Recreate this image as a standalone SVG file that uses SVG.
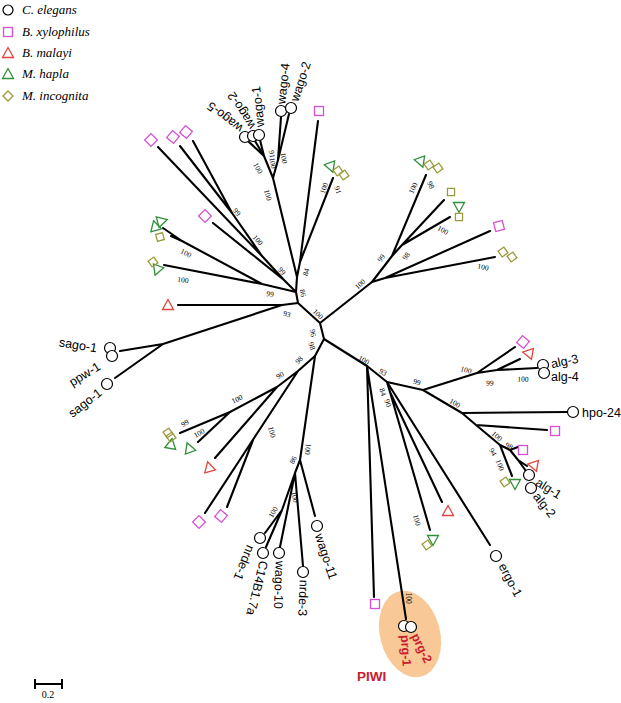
<svg xmlns="http://www.w3.org/2000/svg" xmlns:xlink="http://www.w3.org/1999/xlink" width="621" height="703" viewBox="0 0 621 703">
<style>
.br{fill:none;stroke:#000;stroke-width:2.1;stroke-linecap:round;stroke-linejoin:round}
.c{fill:#fff;stroke:#000;stroke-width:1.2}
.pk{fill:none;stroke:#d64fd6;stroke-width:1.3}
.rd{fill:none;stroke:#e0443c;stroke-width:1.3}
.gr{fill:none;stroke:#2f8f3a;stroke-width:1.3}
.ol{fill:none;stroke:#9a9a3c;stroke-width:1.3}
.bs{font-family:"Liberation Serif","Times New Roman",serif;font-size:7.5px;fill:#000;text-anchor:middle}
.lb{font-family:"Liberation Sans",Arial,sans-serif;font-size:12.5px;fill:#000}
.lg{font-family:"Liberation Serif","Times New Roman",serif;font-size:13px;font-style:italic;fill:#000}
.pr{font-family:"Liberation Sans",Arial,sans-serif;font-size:12.5px;font-weight:bold;fill:#c8202e}
</style>
<defs>
<rect id="sq" x="-4.5" y="-4.5" width="9" height="9"/>
<path id="tri" d="M0,-5.5 L5.5,4.5 L-5.5,4.5Z"/>
<path id="dia" d="M0,-5 L5,0 L0,5 L-5,0Z"/>
</defs>
<rect width="621" height="703" fill="#fff"/>

<g id="legend">
<circle class="c" cx="8" cy="10" r="5"/><text class="lg" x="22" y="14">C. elegans</text>
<use xlink:href="#sq" class="pk" transform="translate(8,32)"/><text class="lg" x="22" y="36">B. xylophilus</text>
<use xlink:href="#tri" class="rd" transform="translate(8,53)"/><text class="lg" x="22" y="57">B. malayi</text>
<use xlink:href="#tri" class="gr" transform="translate(8,74)"/><text class="lg" x="22" y="78">M. hapla</text>
<use xlink:href="#dia" class="ol" transform="translate(8,96)"/><text class="lg" x="22" y="100">M. incognita</text>
</g>

<g id="piwi-highlight">
<ellipse cx="410" cy="634" rx="30" ry="44" transform="rotate(-15 410 634)" fill="#f9c897"/>
<text x="357" y="681" font-family="Liberation Sans, Arial, sans-serif" font-size="13.5" font-weight="bold" fill="#c8202e">PIWI</text>
</g>

<g id="branches" class="br">
<path d="M320,323 L324,339 M320,323 L298,303 M320,323 L372,282"/>
<path d="M298,303 L296,292 M298,303 L282,305 L178,305 M282,305 L163,344 L120,351 M163,344 L115,378"/>
<path d="M296,292 L297,277 L300,262 L318,121 M300,262 L333,178 M297,277 L273,178 L278,160 L281,117 M278,160 L289,114 M273,178 L264,156 L249,142 M264,156 L255,141 M264,156 L260,140"/>
<path d="M296,292 L284,280 L213,223 M284,280 L262,256 L158,147 M262,256 L232,213 L180,146 M232,213 L193,141"/>
<path d="M296,292 L262,284 L182,241 L163,228 M182,241 L171,236 M262,284 L164,265"/>
<path d="M372,282 L392,256 L426,175 M392,256 L402,245 L444,200 M402,245 L450,217 M372,282 L385,278 L490,231 M385,278 L495,257"/>
<path d="M324,339 L315,356 L298,371 L277,387 L230,412 L180,433 M230,412 L198,442 M277,387 L215,458 M298,371 L205,513 M253,440 L227,507"/>
<path d="M315,356 L300,460 L315,516 M300,460 L295,473 L280,547 M295,473 L303,566 M295,473 L282,510 L265,533 M282,510 L266,547"/>
<path d="M324,339 L367,366 L387,382 L423,390 L477,373 L515,347 M477,373 L497,370 L520,359 M497,370 L537,368 M423,390 L462,413 L567,412 M462,413 L476,425 L547,430 M476,425 L500,445 L512,476 M500,445 L510,450 L518,447 M510,450 L518,460 L527,466 M518,460 L526,471"/>
<path d="M367,366 L374,597 M367,366 L406,619 M387,382 L490,545 M387,382 L390,392 L442,502 M390,392 L430,530"/>
</g>

<g id="bootstrap">
<text class="bs" transform="translate(237,212) rotate(50)" dy=".35em">99</text>
<text class="bs" transform="translate(258,240) rotate(50)" dy=".35em">100</text>
<text class="bs" transform="translate(282,271) rotate(50)" dy=".35em">99</text>
<text class="bs" transform="translate(186,253) rotate(27)" dy=".35em">100</text>
<text class="bs" transform="translate(183,280) rotate(8)" dy=".35em">100</text>
<text class="bs" transform="translate(270,294) rotate(8)" dy=".35em">99</text>
<text class="bs" transform="translate(303,293) rotate(80)" dy=".35em">86</text>
<text class="bs" transform="translate(306,272) rotate(-75)" dy=".35em">84</text>
<text class="bs" transform="translate(324,188) rotate(-70)" dy=".35em">100</text>
<text class="bs" transform="translate(338,190) rotate(70)" dy=".35em">91</text>
<text class="bs" transform="translate(268,195) rotate(75)" dy=".35em">100</text>
<text class="bs" transform="translate(258,168) rotate(60)" dy=".35em">100</text>
<text class="bs" transform="translate(272,154) rotate(80)" dy=".35em">91</text>
<text class="bs" transform="translate(273,163) rotate(80)" dy=".35em">100</text>
<text class="bs" transform="translate(284,158) rotate(80)" dy=".35em">100</text>
<text class="bs" transform="translate(318,314) rotate(45)" dy=".35em">100</text>
<text class="bs" transform="translate(287,314) rotate(15)" dy=".35em">93</text>
<text class="bs" transform="translate(313,333) rotate(80)" dy=".35em">96</text>
<text class="bs" transform="translate(312,346) rotate(70)" dy=".35em">98</text>
<text class="bs" transform="translate(299,360) rotate(-45)" dy=".35em">98</text>
<text class="bs" transform="translate(280,375) rotate(-30)" dy=".35em">90</text>
<text class="bs" transform="translate(237,399) rotate(-25)" dy=".35em">100</text>
<text class="bs" transform="translate(185,423) rotate(-30)" dy=".35em">99</text>
<text class="bs" transform="translate(199,433) rotate(-30)" dy=".35em">100</text>
<text class="bs" transform="translate(272,432) rotate(75)" dy=".35em">100</text>
<text class="bs" transform="translate(308,449) rotate(95)" dy=".35em">100</text>
<text class="bs" transform="translate(293,460) rotate(-60)" dy=".35em">86</text>
<text class="bs" transform="translate(295,497) rotate(80)" dy=".35em">100</text>
<text class="bs" transform="translate(273,512) rotate(-60)" dy=".35em">100</text>
<text class="bs" transform="translate(360,284) rotate(-40)" dy=".35em">100</text>
<text class="bs" transform="translate(381,258) rotate(-55)" dy=".35em">99</text>
<text class="bs" transform="translate(406,256) rotate(-55)" dy=".35em">98</text>
<text class="bs" transform="translate(413,188) rotate(-65)" dy=".35em">100</text>
<text class="bs" transform="translate(431,185) rotate(65)" dy=".35em">98</text>
<text class="bs" transform="translate(443,230) rotate(30)" dy=".35em">100</text>
<text class="bs" transform="translate(483,267) rotate(10)" dy=".35em">100</text>
<text class="bs" transform="translate(364,360) rotate(30)" dy=".35em">100</text>
<text class="bs" transform="translate(383,372) rotate(30)" dy=".35em">93</text>
<text class="bs" transform="translate(383,392) rotate(70)" dy=".35em">84</text>
<text class="bs" transform="translate(388,403) rotate(70)" dy=".35em">90</text>
<text class="bs" transform="translate(417,382) rotate(15)" dy=".35em">99</text>
<text class="bs" transform="translate(466,370) rotate(15)" dy=".35em">100</text>
<text class="bs" transform="translate(490,383) rotate(3)" dy=".35em">99</text>
<text class="bs" transform="translate(523,379) rotate(2)" dy=".35em">100</text>
<text class="bs" transform="translate(455,403) rotate(30)" dy=".35em">100</text>
<text class="bs" transform="translate(497,436) rotate(40)" dy=".35em">100</text>
<text class="bs" transform="translate(493,452) rotate(60)" dy=".35em">94</text>
<text class="bs" transform="translate(509,446) rotate(30)" dy=".35em">98</text>
<text class="bs" transform="translate(500,465) rotate(70)" dy=".35em">100</text>
<text class="bs" transform="translate(417,520) rotate(75)" dy=".35em">100</text>
<text class="bs" transform="translate(409,598) rotate(90)" dy=".35em">100</text>
</g>

<g id="wago-cluster">
<circle class="c" cx="245" cy="137" r="5.5"/><circle class="c" cx="253" cy="136" r="5.5"/><circle class="c" cx="259" cy="135" r="5.5"/>
<text class="lb" transform="translate(241,130) rotate(-142)" dy=".35em">wago-5</text>
<text class="lb" transform="translate(252,128) rotate(-122)" dy=".35em">wago-2</text>
<text class="lb" transform="translate(260,127) rotate(-96)" dy=".35em">wago-1</text>
</g>
<g id="wago-4-2">
<circle class="c" cx="281" cy="111" r="5.5"/><circle class="c" cx="291" cy="108" r="5.5"/>
<text class="lb" transform="translate(281,104) rotate(-84)" dy=".35em">wago-4</text>
<text class="lb" transform="translate(294,101) rotate(-72)" dy=".35em">wago-2</text>
</g>
<g id="sago">
<circle class="c" cx="110" cy="348" r="5.5"/><circle class="c" cx="112" cy="356" r="5.5"/><circle class="c" cx="107" cy="384" r="5.5"/>
<text class="lb" text-anchor="end" transform="translate(97,348) rotate(9)" dy=".35em">sago-1</text>
<text class="lb" text-anchor="end" transform="translate(99,365) rotate(-32)" dy=".35em">ppw-1</text>
<text class="lb" text-anchor="end" transform="translate(100,391) rotate(-38)" dy=".35em">sago-1</text>
</g>
<g id="wago-lower">
<circle class="c" cx="260" cy="538" r="5.5"/><circle class="c" cx="263" cy="553" r="5.5"/><circle class="c" cx="279" cy="553" r="5.5"/><circle class="c" cx="303" cy="572" r="5.5"/><circle class="c" cx="317" cy="526" r="5.5"/>
<text class="lb" transform="translate(251,546) rotate(112)" dy=".35em">nrde-1</text>
<text class="lb" transform="translate(264,561) rotate(104)" dy=".35em">C14B1.7a</text>
<text class="lb" transform="translate(280,561) rotate(92)" dy=".35em">wago-10</text>
<text class="lb" transform="translate(304,580) rotate(92)" dy=".35em">nrde-3</text>
<text class="lb" transform="translate(319,534) rotate(72)" dy=".35em">wago-11</text>
</g>
<g id="alg">
<circle class="c" cx="543" cy="365" r="5.5"/><circle class="c" cx="544" cy="373" r="5.5"/>
<text class="lb" transform="translate(551,364) rotate(-12)" dy=".35em">alg-3</text>
<text class="lb" transform="translate(551,377)" dy=".35em">alg-4</text>
<circle class="c" cx="573" cy="412" r="5.5"/>
<text class="lb" transform="translate(582,413)" dy=".35em">hpo-24</text>
<circle class="c" cx="529" cy="475" r="5.5"/><circle class="c" cx="531" cy="488" r="5.5"/>
<text class="lb" transform="translate(537,481) rotate(32)" dy=".35em">alg-1</text>
<text class="lb" transform="translate(536,494) rotate(52)" dy=".35em">alg-2</text>
<circle class="c" cx="496" cy="556" r="5.5"/>
<text class="lb" transform="translate(502,564) rotate(62)" dy=".35em">ergo-1</text>
</g>
<g id="prg">
<circle class="c" cx="404" cy="626" r="5.5"/><circle class="c" cx="411" cy="627" r="5.5"/>
<text class="pr" transform="translate(415,634) rotate(64)" dy=".35em">prg-2</text>
<text class="pr" transform="translate(405,635) rotate(86)" dy=".35em">prg-1</text>
</g>

<g id="xylophilus">
<use xlink:href="#sq" class="pk" transform="translate(151,140) rotate(45)"/>
<use xlink:href="#sq" class="pk" transform="translate(173,137) rotate(40)"/>
<use xlink:href="#sq" class="pk" transform="translate(186,132) rotate(40)"/>
<use xlink:href="#sq" class="pk" transform="translate(205,216) rotate(45)"/>
<use xlink:href="#sq" class="pk" transform="translate(319,111)"/>
<use xlink:href="#sq" class="pk" transform="translate(499,226) rotate(-15)"/>
<use xlink:href="#sq" class="pk" transform="translate(523,342) rotate(40)"/>
<use xlink:href="#sq" class="pk" transform="translate(555,431)"/>
<use xlink:href="#sq" class="pk" transform="translate(523,450)"/>
<use xlink:href="#sq" class="pk" transform="translate(199,522) rotate(45)"/>
<use xlink:href="#sq" class="pk" transform="translate(221,516) rotate(40)"/>
<use xlink:href="#sq" class="pk" transform="translate(375,604)"/>
</g>
<g id="malayi">
<use xlink:href="#tri" class="rd" transform="translate(168,305)"/>
<use xlink:href="#tri" class="rd" transform="translate(528,353) rotate(-80)"/>
<use xlink:href="#tri" class="rd" transform="translate(533,465) rotate(-80)"/>
<use xlink:href="#tri" class="rd" transform="translate(209,467) rotate(-15)"/>
<use xlink:href="#tri" class="rd" transform="translate(448,511)"/>
</g>
<g id="hapla">
<use xlink:href="#tri" class="gr" transform="translate(331,167) rotate(160)"/>
<use xlink:href="#tri" class="gr" transform="translate(421,162) rotate(160)"/>
<use xlink:href="#tri" class="gr" transform="translate(459,207) rotate(180)"/>
<use xlink:href="#tri" class="gr" transform="translate(155,226) rotate(-15)"/>
<use xlink:href="#tri" class="gr" transform="translate(162,221) rotate(75)"/>
<use xlink:href="#tri" class="gr" transform="translate(157,270) rotate(200)"/>
<use xlink:href="#tri" class="gr" transform="translate(171,444) rotate(10)"/>
<use xlink:href="#tri" class="gr" transform="translate(189,448) rotate(-20)"/>
<use xlink:href="#tri" class="gr" transform="translate(433,540) rotate(180)"/>
<use xlink:href="#tri" class="gr" transform="translate(515,484) rotate(180)"/>
</g>
<g id="incognita">
<use xlink:href="#dia" class="ol" transform="translate(338,171) rotate(10)"/>
<use xlink:href="#dia" class="ol" transform="translate(344,175) rotate(10)"/>
<use xlink:href="#dia" class="ol" transform="translate(429,165) rotate(10)"/>
<use xlink:href="#dia" class="ol" transform="translate(438,168) rotate(10)"/>
<use xlink:href="#dia" class="ol" transform="translate(451,192) rotate(45)"/>
<use xlink:href="#dia" class="ol" transform="translate(459,217) rotate(45)"/>
<use xlink:href="#dia" class="ol" transform="translate(503,252) rotate(10)"/>
<use xlink:href="#dia" class="ol" transform="translate(512,257) rotate(10)"/>
<use xlink:href="#dia" class="ol" transform="translate(160,237) rotate(30)"/>
<use xlink:href="#dia" class="ol" transform="translate(153,262) rotate(10)"/>
<use xlink:href="#dia" class="ol" transform="translate(168,433) rotate(10)"/>
<use xlink:href="#dia" class="ol" transform="translate(171,437) rotate(10)"/>
<use xlink:href="#dia" class="ol" transform="translate(427,545) rotate(10)"/>
<use xlink:href="#dia" class="ol" transform="translate(505,482) rotate(10)"/>
</g>

<g id="scale">
<path d="M35,684 L62,684 M35,679 L35,689 M62,679 L62,689" fill="none" stroke="#000" stroke-width="2"/>
<text x="48" y="698" font-family="Liberation Serif, Times New Roman, serif" font-size="10" text-anchor="middle">0.2</text>
</g>
</svg>
